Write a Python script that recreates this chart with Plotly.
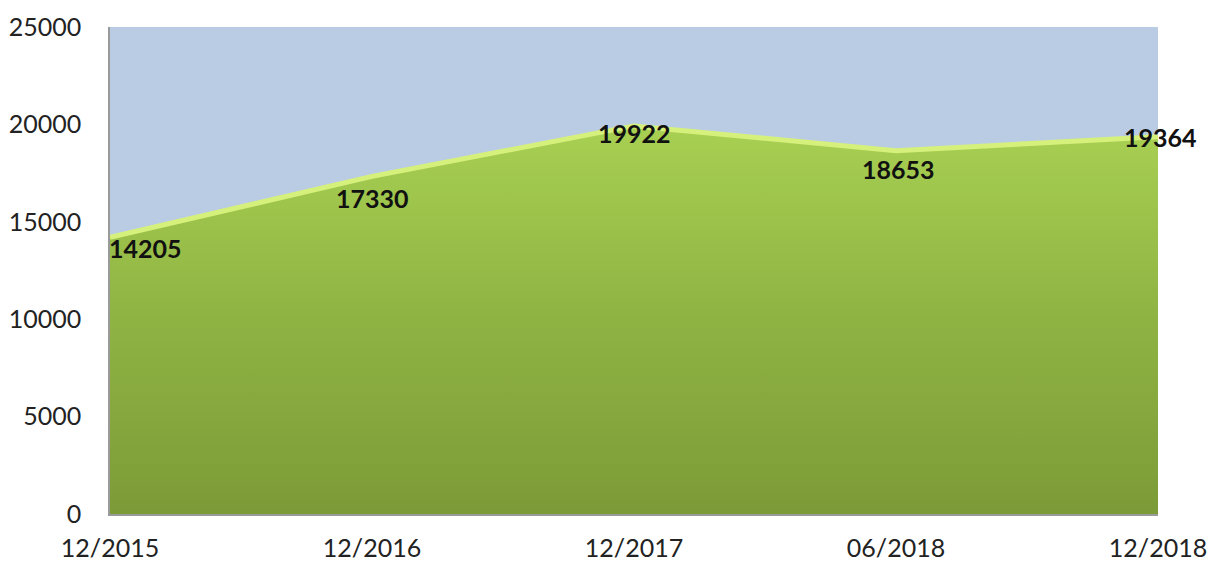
import plotly.graph_objects as go

categories = ["12/2015", "12/2016", "12/2017", "06/2018", "12/2018"]
values = [14205, 17330, 19922, 18653, 19364]
y_ticks = [0, 5000, 10000, 15000, 20000, 25000]

# label offsets (pixels) to mimic the original label placement
label_dx = [35, 0, 0, 2, 2]
label_dy = [-11, -22, -7, -18, 0]

fig = go.Figure()
fig.add_trace(go.Scatter(
    x=categories, y=values, mode="lines",
    fill="tozeroy",
    fillgradient=dict(type="vertical",
                      colorscale=[[0, "#7c9b38"], [0.5, "#8fb343"], [1, "#a8d052"]]),
    line=dict(color="#d6f07c", width=5),
    hoverinfo="skip", showlegend=False,
))

for i, (c, v) in enumerate(zip(categories, values)):
    fig.add_annotation(x=c, y=v, text=f"<b>{v}</b>", showarrow=False,
                       xshift=label_dx[i], yshift=label_dy[i],
                       font=dict(family="Lato", size=25, color="#111111"))

fig.update_layout(
    width=1210, height=564,
    margin=dict(l=110, r=52, t=27, b=50, autoexpand=False),
    paper_bgcolor="white", plot_bgcolor="#b9cce4",
    font=dict(family="Lato", size=25, color="#222222"),
    xaxis=dict(type="category", range=[0, 4], showgrid=False, zeroline=False,
               showline=True, linecolor="#9a9a9a", linewidth=1.5, automargin=False,
               ticks="", ticklabelstandoff=11, tickfont=dict(size=25)),
    yaxis=dict(range=[0, 25000], tickvals=y_ticks, tickformat="d",
               showgrid=False, zeroline=False, automargin=False,
               showline=True, linecolor="#9a9a9a", linewidth=1.5,
               ticks="", ticklabelstandoff=22, tickfont=dict(size=25)),
)

fig.write_html("out.html", config={"displayModeBar": False},
               post_script="document.body.style.margin='0';document.body.style.overflow='hidden';")
